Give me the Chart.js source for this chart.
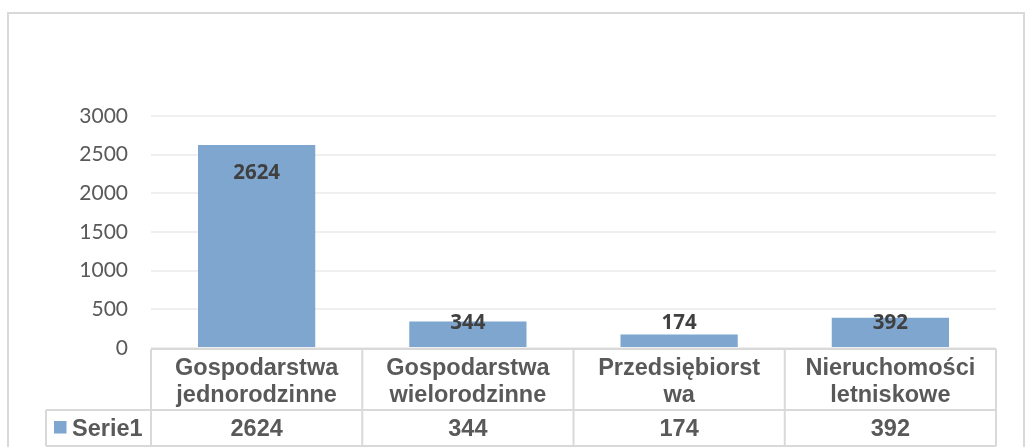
<!DOCTYPE html>
<html>
<head>
<meta charset="utf-8">
<script src="https://cdn.jsdelivr.net/npm/chart.js@4.4.1/dist/chart.umd.min.js"></script>
<style>
    html, body { margin: 0; padding: 0; background: #fff; }
    #wrap { width: 1025px; height: 447px; position: relative; }
</style>
</head>
<body>
<div id="wrap"><canvas id="barChart"></canvas></div>
<script>
// Data
const categories = [
    ["Gospodarstwa", "jednorodzinne"],
    ["Gospodarstwa", "wielorodzinne"],
    ["Przedsiębiorst", "wa"],
    ["Nieruchomości", "letniskowe"]
];
const seriesName = "Serie1";
const values = [2624, 344, 174, 392];
const yTicks = [0, 500, 1000, 1500, 2000, 2500, 3000];
const yTickLabels = ["0", "500", "1000", "1500", "2000", "2500", "3000"];

const barColor = "#7fa6cf";
const lineColor = "#d9d9d9";
const tableFont = "bold 23.5px 'Liberation Sans', Arial, sans-serif";

// Outer frame
const framePlugin = {
    id: "frame",
    beforeDraw(chart) {
        const ctx = chart.ctx;
        ctx.save();
        ctx.strokeStyle = lineColor;
        ctx.lineWidth = 2;
        ctx.strokeRect(8, 13, 1016, 450);
        ctx.restore();
    }
};

// Value labels on bars (Excel "inside end" style)
const valueLabels = {
    id: "valueLabels",
    afterDatasetsDraw(chart) {
        const ctx = chart.ctx;
        const meta = chart.getDatasetMeta(0);
        const base = chart.scales.y.getPixelForValue(0);
        ctx.save();
        ctx.font = "bold 20.5px 'Open Sans', sans-serif";
        ctx.fillStyle = "#404040";
        ctx.textAlign = "center";
        ctx.textBaseline = "middle";
        meta.data.forEach((bar, i) => {
            const y = Math.min(bar.y + 28, base - 25);
            ctx.fillText(String(values[i]), bar.x, y);
        });
        ctx.restore();
    }
};

// Data table under the plot
const dataTable = {
    id: "dataTable",
    afterDraw(chart) {
        const ctx = chart.ctx;
        const area = chart.chartArea;
        const x = chart.scales.x;
        const top = 349, mid = 410, bottom = 446, legendLeft = 46;
        const step = (area.right - area.left) / categories.length;

        ctx.save();
        ctx.strokeStyle = lineColor;
        ctx.lineWidth = 2;
        ctx.beginPath();
        ctx.moveTo(area.left, top); ctx.lineTo(area.right, top);
        ctx.moveTo(legendLeft, mid); ctx.lineTo(area.right, mid);
        ctx.moveTo(legendLeft, bottom); ctx.lineTo(area.right, bottom);
        ctx.moveTo(legendLeft, mid); ctx.lineTo(legendLeft, bottom);
        for (let i = 0; i <= categories.length; i++) {
            const cx = area.left + step * i;
            ctx.moveTo(cx, top); ctx.lineTo(cx, bottom);
        }
        ctx.stroke();

        ctx.font = tableFont;
        ctx.fillStyle = "#595959";
        ctx.textAlign = "center";
        ctx.textBaseline = "alphabetic";
        categories.forEach((lines, i) => {
            const cx = x.getPixelForValue(i);
            ctx.fillText(lines[0], cx, 375);
            ctx.fillText(lines[1], cx, 402);
            ctx.fillText(String(values[i]), cx, 436);
        });

        // legend key + series name
        ctx.fillStyle = barColor;
        ctx.fillRect(54, 421, 12.5, 12.5);
        ctx.fillStyle = "#595959";
        ctx.textAlign = "left";
        ctx.fillText(seriesName, 72, 436);
        ctx.restore();
    }
};

const barCtx = document.getElementById("barChart");
new Chart(barCtx, {
    type: "bar",
    data: {
        labels: categories.map(c => c.join(" ")),
        datasets: [{
            label: seriesName,
            data: values,
            backgroundColor: barColor,
            borderWidth: 0,
            barPercentage: 0.555,
            categoryPercentage: 1
        }]
    },
    options: {
        responsive: true,
        maintainAspectRatio: false,
        animation: false,
        layout: { padding: { top: 116, right: 29, bottom: 99, left: 0 } },
        scales: {
            x: { display: false },
            y: {
                min: 0,
                max: 3000,
                afterFit(scale) { scale.width = 151; },
                afterBuildTicks(scale) { scale.ticks = yTicks.map(v => ({ value: v })); },
                border: { display: false },
                grid: { color: "#efefef", lineWidth: 2, drawTicks: false },
                ticks: {
                    padding: 23,
                    color: "#595959",
                    font: { family: "Lato, sans-serif", size: 21 },
                    callback: (v) => yTickLabels[yTicks.indexOf(v)]
                }
            }
        },
        plugins: {
            legend: { display: false },
            tooltip: { enabled: false }
        }
    },
    plugins: [framePlugin, valueLabels, dataTable]
});
</script>
</body>
</html>
